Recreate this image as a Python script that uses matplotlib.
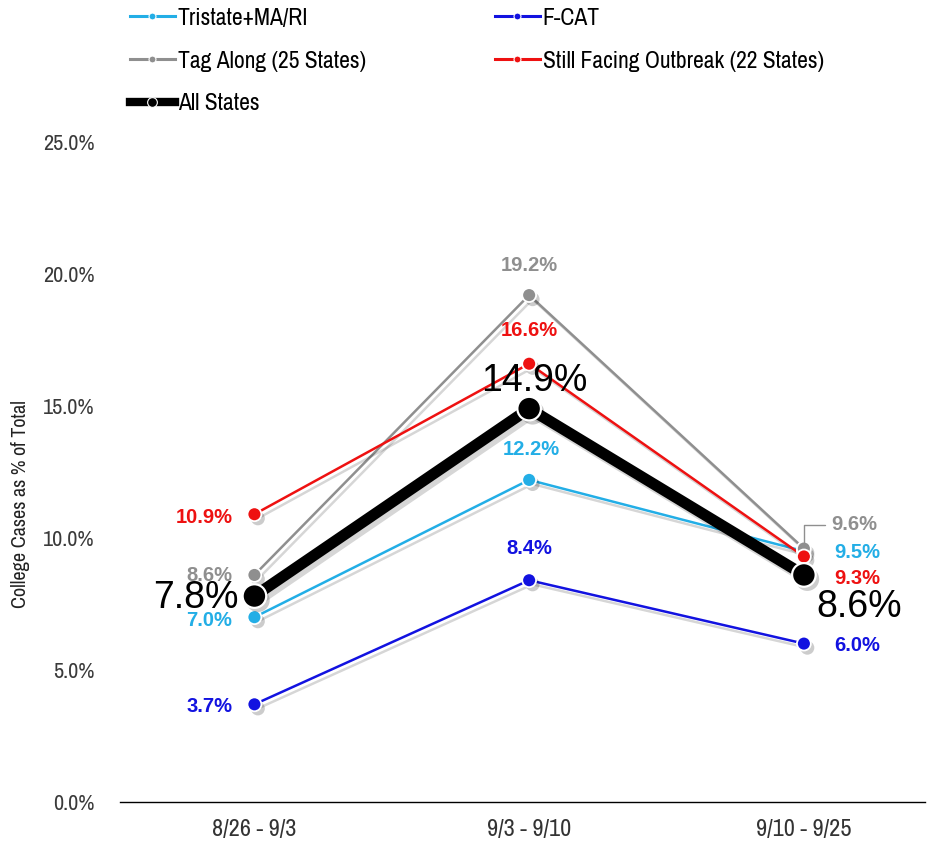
import matplotlib
matplotlib.use("Agg")
import matplotlib.pyplot as plt
import matplotlib.patheffects as pe
from matplotlib.lines import Line2D
from matplotlib import font_manager as fm

weeks = ["8/26 - 9/3", "9/3 - 9/10", "9/10 - 9/25"]
tristate = [7.0, 12.2, 9.5]
fcat = [3.7, 8.4, 6.0]
tag_along = [8.6, 19.2, 9.6]
still_facing = [10.9, 16.6, 9.3]
all_states = [7.8, 14.9, 8.6]
y_ticks = [0, 5, 10, 15, 20, 25]

C_TRI = "#23aee6"
C_FCAT = "#1212e0"
C_TAG = "#8f8f8f"
C_STILL = "#ee1111"
C_ALL = "black"

# pick a condensed sans for axis text and legend
installed = {f.name for f in fm.fontManager.ttflist}
narrow_pref = ["Liberation Sans Narrow", "Arial Narrow", "Archivo Narrow", "Roboto Condensed",
               "PT Sans Narrow", "Pragati Narrow", "Open Sans Condensed", "Encode Sans Condensed",
               "Fira Sans Condensed", "IBM Plex Sans Condensed"]
NARROW_NAME = next((n for n in narrow_pref if n in installed), "Liberation Sans")
NARROW = [NARROW_NAME, "DejaVu Sans"]
REG = ["Liberation Sans", "DejaVu Sans"]

fig = plt.figure(figsize=(9.36, 8.42), dpi=100)
ax = fig.add_axes([0.128, 0.0475, 0.86, 0.7839])

x = list(range(len(weeks)))
line_shadow = [pe.SimpleLineShadow(offset=(2.5, -3), alpha=0.16, shadow_color="black"), pe.Normal()]
dot_shadow = [pe.SimplePatchShadow(offset=(2.5, -3), shadow_rgbFace="black", alpha=0.2), pe.Normal()]

series = [
    (tristate, C_TRI),
    (fcat, C_FCAT),
    (tag_along, C_TAG),
    (still_facing, C_STILL),
]
for vals, col in series:
    ax.plot(x, vals, color=col, lw=1.8, path_effects=line_shadow, zorder=3)
    ax.plot(x, vals, ls="none", marker="o", ms=10, mfc=col, mec="white", mew=1.3,
            path_effects=dot_shadow, zorder=3.5)
ax.plot(x, all_states, color=C_ALL, lw=8, path_effects=line_shadow, zorder=4, solid_capstyle="butt")
ax.plot(x, all_states, ls="none", marker="o", ms=17, mfc=C_ALL, mec="white", mew=1.6,
        path_effects=dot_shadow, zorder=4.5)

def lab(xi, v, col, dx, dy, ha="center", size=14.5, weight="bold", family=REG, z=6):
    ax.annotate(f"{v:.1f}%", (xi, v), xytext=(dx, dy), textcoords="offset pixels",
                ha=ha, va="center", color=col, fontsize=size, fontweight=weight,
                family=family, zorder=z)

# first week
lab(0, still_facing[0], C_STILL, -22, -3, ha="right")
lab(0, tag_along[0], C_TAG, -22, -1, ha="right")
lab(0, tristate[0], C_TRI, -22, -3, ha="right")
lab(0, fcat[0], C_FCAT, -22, -2, ha="right")
lab(0, all_states[0], C_ALL, -16, -2, ha="right", size=27, weight="normal", z=7)

# second week
lab(1, tag_along[1], C_TAG, 0, 30)
lab(1, still_facing[1], C_STILL, 0, 33)
lab(1, tristate[1], C_TRI, 2, 30)
lab(1, fcat[1], C_FCAT, 0, 32)
lab(1, all_states[1], C_ALL, 5, 28, size=27, weight="normal", z=7)

# third week
ax.annotate(f"{tag_along[2]:.1f}%", (2, tag_along[2]), xytext=(27, 24),
            textcoords="offset pixels", ha="left", va="center", color=C_TAG,
            fontsize=14.5, fontweight="bold", family=REG, zorder=6,
            arrowprops=dict(arrowstyle="-", color=C_TAG, lw=1,
                            connectionstyle="angle,angleA=0,angleB=90,rad=0",
                            shrinkA=2, shrinkB=5))
lab(2, tristate[2], C_TRI, 30, -1, ha="left")
lab(2, still_facing[2], C_STILL, 30, -22, ha="left")
lab(2, fcat[2], C_FCAT, 30, -2, ha="left")
lab(2, all_states[2], C_ALL, 12, -32, ha="left", size=27, weight="normal", z=7)

ax.set_xlim(-0.49, 2.44)
ax.set_ylim(0, 25)
ax.set_xticks(x)
ax.set_xticklabels(weeks, family=NARROW, fontsize=17.5, color="#333333")
ax.set_yticks(y_ticks)
ax.set_yticklabels([f"{t:.1f}%" for t in y_ticks], family=NARROW, fontsize=16, color="#3a3a3a")
ax.tick_params(axis="x", length=0, pad=12)
ax.tick_params(axis="y", length=0, pad=18)
for s in ["top", "right", "left"]:
    ax.spines[s].set_visible(False)
ax.spines["bottom"].set_color("black")
ax.spines["bottom"].set_linewidth(1)
ax.set_ylabel("College Cases as % of Total", family=NARROW, fontsize=14.5, color="#222222",
              va="center")
ax.yaxis.set_label_coords(-0.123, 0.452)

def handle(col, lw, ms):
    return Line2D([], [], color=col, lw=lw, marker="o", ms=ms, mfc=col, mec="white", mew=0.8)

leg_kw = dict(loc="upper left", frameon=False, prop={"family": NARROW, "size": 17},
              handlelength=1.9, handletextpad=0.12, labelspacing=0.93,
              borderaxespad=0, borderpad=0)
leg1 = fig.legend([handle(C_TRI, 2.2, 5), handle(C_TAG, 2.2, 5), handle(C_ALL, 6, 7)],
                  ["Tristate+MA/RI", "Tag Along (25 States)", "All States"],
                  bbox_to_anchor=(130 / 936, 0.991), **leg_kw)
leg2 = fig.legend([handle(C_FCAT, 2.2, 5), handle(C_STILL, 2.2, 5)],
                  ["F-CAT", "Still Facing Outbreak (22 States)"],
                  bbox_to_anchor=(495 / 936, 0.991), **leg_kw)

fig.savefig("out.png", dpi=100)
